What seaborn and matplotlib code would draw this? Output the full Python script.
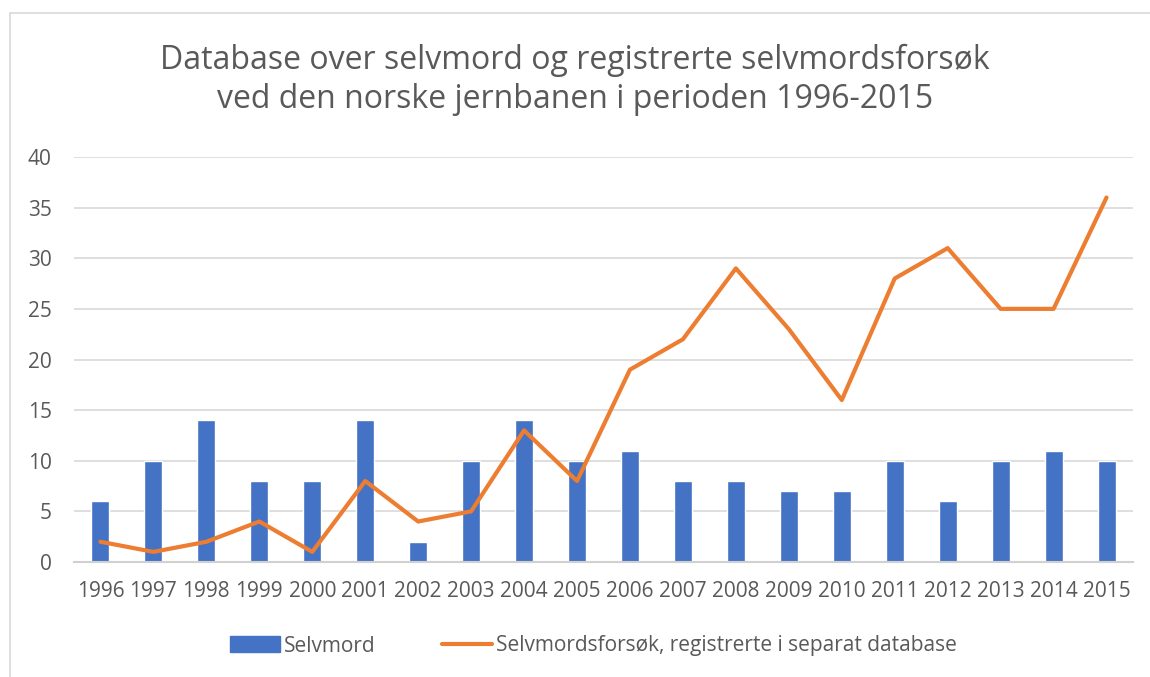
import numpy as np
import pandas as pd
import matplotlib.pyplot as plt
import seaborn as sns
from matplotlib.patches import Rectangle
from matplotlib.lines import Line2D

# data
years = [str(y) for y in range(1996, 2016)]
selvmord = [6, 10, 14, 8, 8, 14, 2, 10, 14, 10, 11, 8, 8, 7, 7, 10, 6, 10, 11, 10]
forsok = [2, 1, 2, 4, 1, 8, 4, 5, 13, 8, 19, 22, 29, 23, 16, 28, 31, 25, 25, 36]
y_ticks = [0, 5, 10, 15, 20, 25, 30, 35, 40]

title = "Database over selvmord og registrerte selvmordsforsøk\nved den norske jernbanen i perioden 1996-2015"
bar_label = "Selvmord"
line_label = "Selvmordsforsøk, registrerte i separat database"

sns.set_theme(style="white")
plt.rcParams['font.family'] = ['Open Sans', 'DejaVu Sans']

blue = "#4472C4"
orange = "#ED7D31"
txt = "#595959"

df = pd.DataFrame({"year": years, "selvmord": selvmord, "forsok": forsok})
df["pos"] = np.arange(len(years))

fig = plt.figure(figsize=(11.5, 6.77), dpi=100)
ax = fig.add_axes([74 / 1150, 1 - 562 / 677, (1133 - 74) / 1150, (562 - 157) / 677])

sns.barplot(data=df, x="year", y="selvmord", color=blue, width=0.34,
            saturation=1, ax=ax, zorder=2)
sns.lineplot(data=df, x="pos", y="forsok", color=orange, linewidth=3.0,
             ax=ax, zorder=3)

ax.set_xlim(-0.5, len(years) - 0.5)
ax.set_ylim(0, 40)
ax.set_yticks(y_ticks)
ax.yaxis.grid(True, color="#d9d9d9", linewidth=1.2, zorder=0)
ax.set_axisbelow(True)
for s in ["top", "right", "left"]:
    ax.spines[s].set_visible(False)
ax.spines["bottom"].set_color("#d0d0d0")
ax.spines["bottom"].set_linewidth(1.5)
ax.set_xlabel("")
ax.set_ylabel("")
ax.tick_params(axis="both", length=0, labelsize=15, labelcolor=txt)
ax.tick_params(axis="x", pad=14)
ax.tick_params(axis="y", pad=16)

fig.text(0.5, 1 - 80 / 677, title, ha="center", va="center", fontsize=23,
         color=txt, linespacing=1.25)

handles = [Rectangle((0, 0), 1, 1, color=blue),
           Line2D([0], [0], color=orange, linewidth=3.0)]
fig.legend(handles, [bar_label, line_label], loc="center",
           bbox_to_anchor=(0.516, 1 - 646 / 677), ncol=2, frameon=False,
           fontsize=15, labelcolor=txt, handlelength=2.4, handleheight=0.8,
           columnspacing=3.2, handletextpad=0.2)

# light chart border like the original
fig.add_artist(Rectangle((10 / 1150, -0.1), 1.2, 1 - 13 / 677 + 0.1,
                         transform=fig.transFigure, fill=False,
                         edgecolor="#d9d9d9", linewidth=1.2))

fig.savefig("out.png", dpi=100)
